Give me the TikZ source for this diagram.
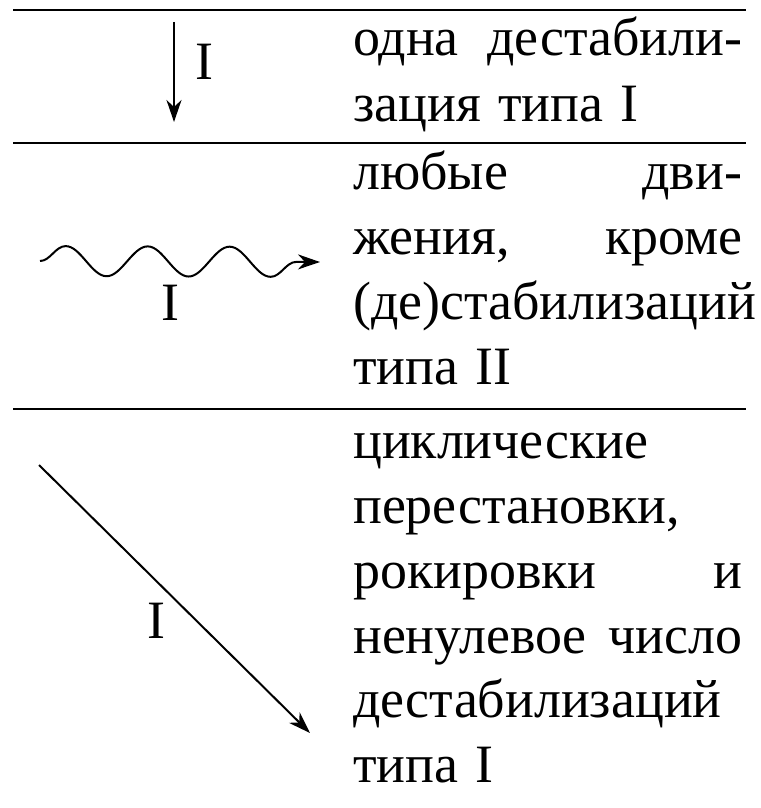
\documentclass[tikz,border=0pt]{standalone}
\usepackage{fontspec}
\usetikzlibrary{arrows.meta,decorations.pathmorphing}
\newfontfamily\probefont{Liberation Serif}
\newlength\probelen
\settowidth\probelen{\probefont\fontsize{54pt}{65pt}\selectfont (де)стабилизаций}
\edef\stretchval{\fpeval{round(403pt/\probelen,4)}}
\edef\dosetfont{\noexpand\setmainfont{Liberation Serif}[FakeStretch=\stretchval,WordSpace=1.3]}
\dosetfont
\newcommand\justline[2]{\hbox to 389pt{#1\hfill #2}}
\begin{document}
\begin{tikzpicture}[x=1pt,y=1pt,
  txt/.style={anchor=base west, inner sep=0pt, font=\fontsize{54pt}{65pt}\selectfont},
  lbl/.style={anchor=base, inner sep=0pt, font=\fontsize{54pt}{65pt}\selectfont},
  rulel/.style={line width=2pt},
  arr/.style={line width=2pt, -{Stealth[length=22pt,width=15pt,inset=7pt]}}]
\useasboundingbox (0,0) rectangle (760,-808);
% rules
\coordinate (r1a) at (13,-10);  \coordinate (r1b) at (746,-10);
\coordinate (r2a) at (13,-143); \coordinate (r2b) at (746,-143);
\coordinate (r3a) at (13,-409); \coordinate (r3b) at (746,-409);
\draw[rulel] (r1a) -- (r1b);
\draw[rulel] (r2a) -- (r2b);
\draw[rulel] (r3a) -- (r3b);
% row 1
\node[txt] (t11) at (353,-56)  {\justline{одна}{дестабили-}};
\node[txt] (t12) at (353,-121) {зация типа I};
\coordinate (a1s) at (174,-22);
\coordinate (a1e) at (174,-122);
\draw[arr] (a1s) -- (a1e);
\node[lbl] (l1) at (204,-79) {I};
% row 2
\node[txt] (t21) at (353,-189) {\justline{любые}{дви-}};
\node[txt] (t22) at (353,-254) {\justline{жения,}{кроме}};
\node[txt] (t23) at (353,-319) {(де)стабилизаций};
\node[txt] (t24) at (353,-384) {типа II};
\coordinate (a2s) at (40,-261);
\coordinate (a2e) at (320,-262);
\draw[arr, decorate, decoration={snake, amplitude=15pt, segment length=82pt}] (a2s) -- (a2e);
\node[lbl] (l2) at (170,-320) {I};
% row 3
\node[txt] (t31) at (353,-458) {циклические};
\node[txt] (t32) at (353,-523) {перестановки,};
\node[txt] (t33) at (353,-588) {\justline{рокировки}{и}};
\node[txt] (t34) at (353,-653) {\justline{ненулевое}{число}};
\node[txt] (t35) at (353,-717) {дестабилизаций};
\node[txt] (t36) at (353,-782) {типа I};
\coordinate (a3s) at (39,-465);
\coordinate (a3e) at (310,-733);
\draw[arr] (a3s) -- (a3e);
\node[lbl] (l3) at (156,-638) {I};
\end{tikzpicture}
\end{document}
